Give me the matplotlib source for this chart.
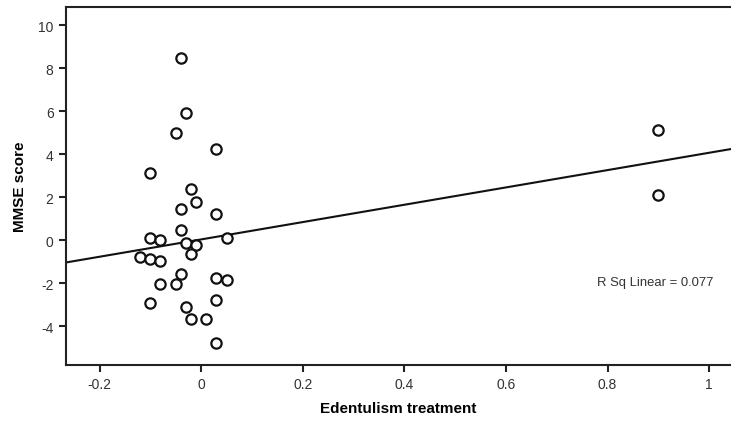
import numpy as np
import matplotlib
matplotlib.use('Agg')
import matplotlib.pyplot as plt

plt.rcParams['font.family'] = ['Liberation Sans', 'DejaVu Sans']
plt.rcParams['axes.unicode_minus'] = False

# edentulism treatment (x) and MMSE score change (y)
treatment = [-0.04, -0.03, -0.05, 0.03, -0.10, -0.02, -0.01, -0.04, 0.03, -0.04,
             -0.10, -0.08, 0.05, -0.03, -0.01, -0.02, -0.12, -0.10, -0.08, -0.04,
             0.03, 0.05, -0.08, -0.05, 0.03, -0.10, -0.03, -0.02, 0.01, 0.03,
             0.90, 0.90]
mmse = [8.48, 5.89, 4.98, 4.23, 3.12, 2.36, 1.78, 1.44, 1.22, 0.47,
        0.09, 0.00, 0.11, -0.13, -0.22, -0.65, -0.81, -0.88, -0.99, -1.57,
        -1.77, -1.88, -2.03, -2.05, -2.78, -2.92, -3.13, -3.67, -3.69, -4.79,
        5.10, 2.09]

# linear fit line as drawn in the figure
fit_slope = 4.03
fit_intercept = 0.03

x_ticks = [-0.2, 0, 0.2, 0.4, 0.6, 0.8, 1]
x_tick_labels = ['-0.2', '0', '0.2', '0.4', '0.6', '0.8', '1']
y_ticks = [-4, -2, 0, 2, 4, 6, 8, 10]
r2_text = 'R Sq Linear = 0.077'

fig = plt.figure(figsize=(7.31, 4.27), dpi=100)
ax = fig.add_axes([0.0903, 0.1429, 0.9097, 0.8384])

xlim = (-0.266, 1.043)
ax.set_xlim(*xlim)
ax.set_ylim(-5.81, 10.84)

xs = np.array(xlim)
ax.plot(xs, fit_intercept + fit_slope * xs, color='#111111', lw=1.5, zorder=2)
ax.scatter(treatment, mmse, s=55, facecolors='white', edgecolors='#111111',
           linewidths=1.6, zorder=3)

ax.set_xticks(x_ticks)
ax.set_xticklabels(x_tick_labels)
ax.set_yticks(y_ticks)
ax.tick_params(direction='out', length=5, width=1.5, labelsize=10,
               labelcolor='#333333', color='#222222', pad=4)
for side in ['left', 'bottom', 'top']:
    ax.spines[side].set_linewidth(1.5)
    ax.spines[side].set_color('#222222')
ax.spines['right'].set_visible(False)

ax.set_xlabel('Edentulism treatment', fontsize=11, fontweight='bold', labelpad=7)
ax.set_ylabel('MMSE score', fontsize=11, fontweight='bold', labelpad=8)

ax.text(0.78, -1.97, r2_text, fontsize=9.4, color='#333333', va='center', ha='left')

fig.savefig('out.png', dpi=100)
